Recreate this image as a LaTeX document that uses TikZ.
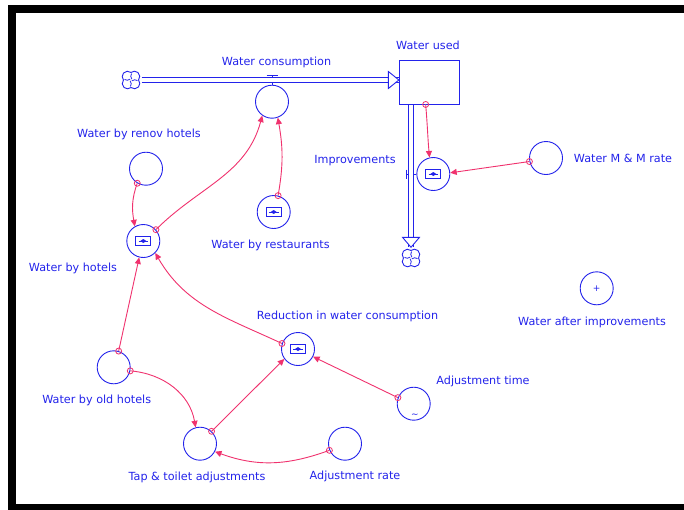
\documentclass[tikz,border=0pt]{standalone}
\usepackage{fontspec}
\setmainfont{DejaVu Sans}
\usetikzlibrary{arrows.meta,calc}
\definecolor{sblue}{RGB}{35,35,235}
\definecolor{slink}{RGB}{240,50,110}
\newcommand\gfico[1]{%
  \draw[sblue,line width=0.8pt] ($(#1)+(-7.5,-4.5)$) rectangle ($(#1)+(7.5,4.5)$);
  \draw[sblue,line width=0.8pt] ($(#1)+(-4.8,0)$) -- ($(#1)+(4.8,0)$);
  \fill[sblue] ($(#1)+(-3,0)$) -- ($(#1)+(0,2)$) -- ($(#1)+(3,0)$) -- ($(#1)+(0,-2)$) -- cycle;}
\newcommand\stcloud[1]{%
  \foreach \a in {45,135,225,315}{
    \draw[sblue,line width=0.9pt] ($(#1)+(\a:4.8)+(\a-85:5.4)$) arc[start angle=\a-85,end angle=\a+85,radius=5.4];
    \draw[sblue,line width=0.8pt] ($(#1)+(\a:1.2)$) to[bend left=35] ($(#1)+(\a+40:6.5)$);
  }}
\begin{document}
\begin{tikzpicture}[x=1pt,y=1pt,
  conv/.style={circle,draw=sblue,line width=0.9pt,minimum size=33pt,inner sep=0pt},
  lbl/.style={text=sblue,font=\fontsize{11.2}{13}\selectfont,inner sep=0pt},
  link/.style={draw=slink,line width=0.9pt,-{Triangle[length=6.5pt,width=6pt]}},
  dot/.style={circle,draw=slink,line width=0.8pt,minimum size=6pt,inner sep=0pt},
  pline/.style={draw=sblue,line width=0.9pt},
  valve/.style={draw=sblue,line width=0.9pt},
  cloudn/.style={circle,minimum size=21pt,inner sep=0pt}]
\useasboundingbox (0,0) rectangle (684,-509);
\begin{scope}
  \clip (0,0) rectangle (684,-509);
  \fill[black] (8,-5) rectangle (700,-520);
  \fill[white] (16,-13) rectangle (700,-504);
\end{scope}

% nodes
\node[cloudn] (cloud1) at (131,-80) {};
\node[cloudn] (cloud2) at (411,-258) {};
\node[draw=sblue,line width=0.9pt,minimum width=59.7pt,minimum height=43.3pt,inner sep=0pt] (stock) at (429.15,-82.35) {};
\node[conv] (wcons) at (272,-101.7) {};
\node[conv] (impr) at (433.3,-174) {};
\node[conv] (mmrate) at (546,-158) {};
\node[conv] (wafter) at (596.7,-288.3) {};
\node[conv] (renov) at (146,-168.7) {};
\node[conv] (hotels) at (143.3,-241) {};
\node[conv] (rest) at (273.7,-212) {};
\node[conv] (reduct) at (298,-349) {};
\node[conv] (adjtime) at (413.7,-403.7) {};
\node[conv] (tap) at (200,-443.7) {};
\node[conv] (adjrate) at (345,-443.7) {};
\node[conv] (oldh) at (113.7,-367.3) {};

% clouds
\stcloud{cloud1}
\stcloud{cloud2}

% pipes (double lines)
\draw[pline] ([yshift=2.2pt]cloud1.east) -- ([yshift=2.2pt]stock.west |- cloud1.east);
\draw[pline] ([yshift=-2.2pt]cloud1.east) -- ([yshift=-2.2pt]stock.west |- cloud1.east);
\draw[sblue,line width=0.9pt,fill=white] ($(stock.west |- cloud1)+(-10.5,8.5)$) -- (stock.west |- cloud1) -- ($(stock.west |- cloud1)+(-10.5,-8.5)$) -- cycle;
\draw[pline] ([xshift=-2.2pt]stock.south -| cloud2) -- ([xshift=-2.2pt]cloud2.north);
\draw[pline] ([xshift=2.2pt]stock.south -| cloud2) -- ([xshift=2.2pt]cloud2.north);
\draw[sblue,line width=0.9pt,fill=white] ($(cloud2.north)+(-8.5,10)$) -- (cloud2.north) -- ($(cloud2.north)+(8.5,10)$) -- cycle;

% valves
\draw[valve] (266.5,-75.3) -- (277.5,-75.3) (272,-75.3) -- (272,-77.8);
\draw[valve] (272,-82.2) -- (wcons.north);
\draw[valve] (406,-169.5) -- (406,-178.5) (406,-174) -- (408.8,-174);
\draw[valve] (413.2,-174) -- (impr.west);

% icons
\gfico{hotels}
\gfico{rest}
\gfico{reduct}
\gfico{impr}
\node[text=sblue,font=\fontsize{9}{9}\selectfont,inner sep=0pt] (plus) at (wafter) {+};
\node[text=sblue,font=\fontsize{9}{9}\selectfont,inner sep=0pt] (tilde) at (415,-415.5) {\textasciitilde};

% links
\draw[link] (renov.239) node[dot]{} to[out=250,in=100] (hotels.120);
\draw[link] (hotels.42) node[dot]{} to[out=45,in=-105] (wcons.235);
\draw[link] (rest.75) node[dot]{} to[out=80,in=-80] (wcons.290);
\draw[link] (oldh.73) node[dot]{} -- (hotels.256);
\draw[link] (reduct.161) node[dot]{} to[out=155,in=-60] (hotels.-45);
\draw[link] (oldh.-12) node[dot]{} to[out=-5,in=100] (tap.105);
\draw[link] (tap.47) node[dot]{} -- (reduct.216);
\draw[link] (adjtime.159) node[dot]{} -- (reduct.-27);
\draw[link] (adjrate.203) node[dot]{} to[out=200,in=-20] (tap.-28);
\draw[link] ([xshift=-3.5pt]stock.south) node[dot]{} to[out=-85,in=95] (impr.103);
\draw[link] (mmrate.192) node[dot]{} -- (impr.4);

% labels
\node[lbl] at (428,-45) {Water used};
\node[lbl] at (276.5,-62) {Water consumption};
\node[lbl] at (139,-134) {Water by renov hotels};
\node[lbl] at (73,-268) {Water by hotels};
\node[lbl] at (270.5,-245) {Water by restaurants};
\node[lbl] at (355,-161) {Improvements};
\node[lbl] at (623,-158) {Water M \& M rate};
\node[lbl] at (592,-322) {Water after improvements};
\node[lbl] at (347.5,-316) {Reduction in water consumption};
\node[lbl] at (483,-381) {Adjustment time};
\node[lbl] at (96.7,-400) {Water by old hotels};
\node[lbl] at (197,-477) {Tap \& toilet adjustments};
\node[lbl] at (355,-476) {Adjustment rate};
\end{tikzpicture}
\end{document}
